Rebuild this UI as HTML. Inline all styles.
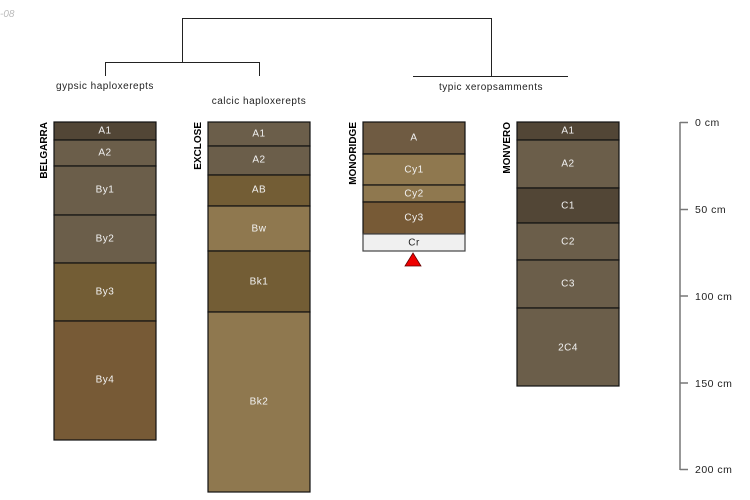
<!DOCTYPE html>
<html><head><meta charset="utf-8"><style>
html,body{margin:0;padding:0;background:#fff;}
svg{display:block;font-family:"Liberation Sans",sans-serif;}
.h{stroke:#111;stroke-width:1.2;}
.t{fill:#f2f2f2;font-size:10px;text-anchor:middle;dominant-baseline:middle;letter-spacing:0.5px;}
.n{font-size:10px;font-weight:bold;fill:#000;text-anchor:end;}
.l{font-size:10px;fill:#222;text-anchor:middle;letter-spacing:0.5px;}
.ax{font-size:10.5px;fill:#222;dominant-baseline:middle;letter-spacing:0.5px;}
</style></head><body>
<svg width="750" height="500" viewBox="0 0 750 500">
<text x="0" y="17" font-size="10" font-style="italic" fill="#bbb">-08</text>
<g stroke="#222" stroke-width="1" fill="none">
<path d="M182.5 62 V18.5 H491.5 V76"/>
<path d="M105.5 76 V62.5 H259.5 V76"/>
<path d="M413 76.5 H568"/>
</g>
<text class="l" x="105" y="89">gypsic haploxerepts</text>
<text class="l" x="259" y="104">calcic haploxerepts</text>
<text class="l" x="491" y="90">typic xeropsamments</text>

<text class="n" transform="translate(47,122) rotate(-90)">BELGARRA</text>
<g class="h">
<rect x="54" y="122" width="102" height="18" fill="#524636"/>
<rect x="54" y="140" width="102" height="26" fill="#6b5e4a"/>
<rect x="54" y="166" width="102" height="49" fill="#6b5e4a"/>
<rect x="54" y="215" width="102" height="48" fill="#6b5e4a"/>
<rect x="54" y="263" width="102" height="58" fill="#735d35"/>
<rect x="54" y="321" width="102" height="119" fill="#775a36"/>
</g>
<text class="t" x="105" y="131">A1</text>
<text class="t" x="105" y="153">A2</text>
<text class="t" x="105" y="190">By1</text>
<text class="t" x="105" y="239">By2</text>
<text class="t" x="105" y="292">By3</text>
<text class="t" x="105" y="380">By4</text>

<text class="n" transform="translate(201,122) rotate(-90)">EXCLOSE</text>
<g class="h">
<rect x="208" y="122" width="102" height="24" fill="#6b5e4a"/>
<rect x="208" y="146" width="102" height="29" fill="#6b5e4a"/>
<rect x="208" y="175" width="102" height="31" fill="#735d35"/>
<rect x="208" y="206" width="102" height="45" fill="#8f784f"/>
<rect x="208" y="251" width="102" height="61" fill="#735d35"/>
<rect x="208" y="312" width="102" height="180" fill="#8f784f"/>
</g>
<text class="t" x="259" y="134">A1</text>
<text class="t" x="259" y="160">A2</text>
<text class="t" x="259" y="190">AB</text>
<text class="t" x="259" y="229">Bw</text>
<text class="t" x="259" y="282">Bk1</text>
<text class="t" x="259" y="402">Bk2</text>

<text class="n" transform="translate(356,122) rotate(-90)">MONORIDGE</text>
<g class="h">
<rect x="363" y="122" width="102" height="32" fill="#6f5b42"/>
<rect x="363" y="154" width="102" height="31" fill="#8f784f"/>
<rect x="363" y="185" width="102" height="17" fill="#8f784f"/>
<rect x="363" y="202" width="102" height="32" fill="#775a36"/>
<rect x="363" y="234" width="102" height="17" fill="#f0f0f0" stroke="#444"/>
</g>
<text class="t" x="414" y="138">A</text>
<text class="t" x="414" y="170">Cy1</text>
<text class="t" x="414" y="194">Cy2</text>
<text class="t" x="414" y="218">Cy3</text>
<text class="t" x="414" y="243" style="fill:#222">Cr</text>
<polygon points="413,253 421,266 405,266" fill="#e00" stroke="#600" stroke-width="0.8"/>

<text class="n" transform="translate(510,122) rotate(-90)">MONVERO</text>
<g class="h">
<rect x="517" y="122" width="102" height="18" fill="#524636"/>
<rect x="517" y="140" width="102" height="48" fill="#6b5e4a"/>
<rect x="517" y="188" width="102" height="35" fill="#524636"/>
<rect x="517" y="223" width="102" height="37" fill="#6b5e4a"/>
<rect x="517" y="260" width="102" height="48" fill="#6b5e4a"/>
<rect x="517" y="308" width="102" height="78" fill="#6b5e4a"/>
</g>
<text class="t" x="568" y="131">A1</text>
<text class="t" x="568" y="164">A2</text>
<text class="t" x="568" y="206">C1</text>
<text class="t" x="568" y="242">C2</text>
<text class="t" x="568" y="284">C3</text>
<text class="t" x="568" y="348">2C4</text>

<g stroke="#777" stroke-width="1.5">
<line x1="680" y1="122" x2="680" y2="470"/>
<line x1="680" y1="122.5" x2="688" y2="122.5"/>
<line x1="680" y1="209.5" x2="688" y2="209.5"/>
<line x1="680" y1="296" x2="688" y2="296"/>
<line x1="680" y1="383" x2="688" y2="383"/>
<line x1="680" y1="469.5" x2="688" y2="469.5"/>
</g>
<text class="ax" x="695" y="123">0 cm</text>
<text class="ax" x="695" y="210">50 cm</text>
<text class="ax" x="695" y="297">100 cm</text>
<text class="ax" x="695" y="384">150 cm</text>
<text class="ax" x="695" y="470">200 cm</text>
</svg>
</body></html>
